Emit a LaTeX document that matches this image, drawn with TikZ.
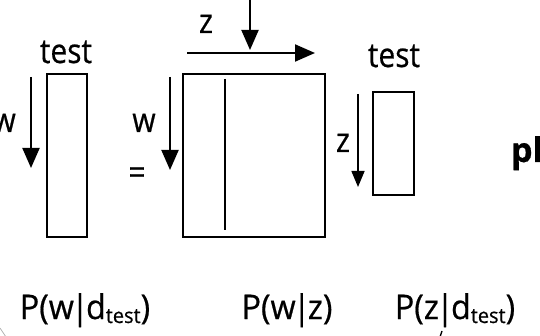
\documentclass[tikz,border=0pt]{standalone}
\usepackage{fontspec}
\setmainfont{Open Sans}[FakeBold=0.6]
\usetikzlibrary{arrows.meta}
\newcommand{\sq}[1]{\scalebox{0.88}[1]{#1}}
\newcommand{\sqb}[1]{\scalebox{0.95}[1]{#1}}
\newcommand{\pipe}{\kern-3pt|\kern-3pt}
\newcommand{\subtest}{\raisebox{-4pt}{\fontsize{21}{21}\selectfont test}}
\begin{document}
\begin{tikzpicture}[x=1pt,y=-1pt,
  lbl/.style={inner sep=0pt, anchor=base, font=\fontsize{34}{40}\selectfont},
  box/.style={draw, line width=1.7pt, inner sep=0pt},
  arr/.style={line width=2pt, -{Triangle[length=20pt,width=17pt]}},
  sarr/.style={line width=1.5pt, -{Triangle[length=16pt,width=13pt]}}]
\useasboundingbox (0,0) rectangle (540,336);
\clip (0,0) rectangle (540,336);
% boxes
\node[box, minimum width=40pt, minimum height=163pt] (v1) at (67,155.5) {};
\node[box, minimum width=142pt, minimum height=163pt] (M) at (254,155.5) {};
\node[box, minimum width=41pt, minimum height=103pt] (v2) at (393.5,143.5) {};
\coordinate (l1) at (225,79);
\coordinate (l2) at (225,230);
\draw[line width=1.7pt] (l1) -- (l2);
% labels
\node[lbl] (t1) at (66,63) {\sq{test}};
\node[lbl] (t2) at (394,67) {\sq{test}};
\node[lbl, anchor=base east] (w1) at (16,132) {\sq{w}};
\node[lbl] (w2) at (144,132) {\sq{w}};
\node[lbl] (z1) at (206,33) {\sq{z}};
\node[lbl] (z2) at (343,152) {\sq{z}};
\node[lbl] (eq) at (137,184) {\sq{=}};
\node[lbl, font=\fontsize{34}{40}\bfseries] (pl) at (527,162) {pl};
\node[lbl] (p1) at (85,319) {\sqb{P(w\pipe d\subtest)}};
\node[lbl] (p2) at (287,319) {\sqb{P(w\pipe z)}};
\node[lbl] (p3) at (455,319) {\sqb{P(z\pipe d\subtest)}};
% arrows
\coordinate (a1s) at (31,77);  \coordinate (a1e) at (31,168);
\coordinate (a2s) at (170,77); \coordinate (a2e) at (170,170);
\coordinate (hs) at (187,53);  \coordinate (he) at (315,53);
\coordinate (vs) at (250,-2);  \coordinate (ve) at (250,50);
\coordinate (zs) at (358,94);  \coordinate (ze) at (358,187);
\draw[arr] (a1s) -- (a1e);
\draw[arr] (a2s) -- (a2e);
\draw[arr] (hs) -- (he);
\draw[arr] (vs) -- (ve);
\draw[sarr] (zs) -- (ze);
% cut-off fragments at the bottom edge
\coordinate (f1) at (0,328); \coordinate (f2) at (6,337);
\draw[gray!60, line width=0.8pt] (f1) -- (f2);
\coordinate (f3) at (442,331); \coordinate (f4) at (440,337);
\draw[line width=1.4pt] (f3) -- (f4);
\end{tikzpicture}
\end{document}
